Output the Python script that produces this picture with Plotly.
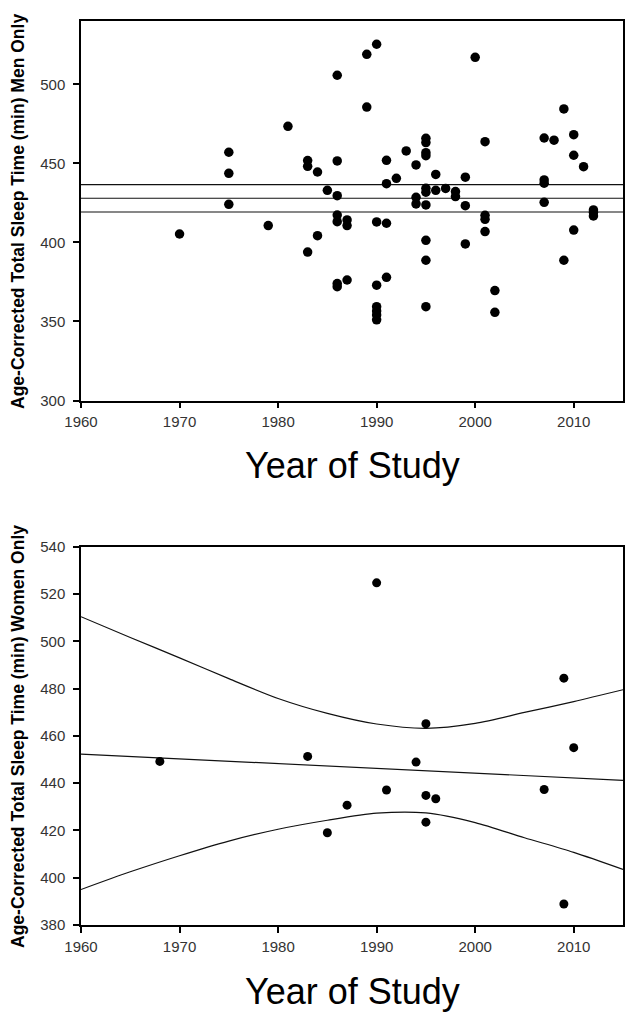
import plotly.graph_objects as go

# ---------------- data: men (top panel) ----------------
men_year = [
    1970, 1975, 1975, 1975, 1979, 1981, 1983, 1983, 1983, 1984, 1984, 1985,
    1986, 1986, 1986, 1986, 1986, 1986, 1986,
    1987, 1987, 1987,
    1989, 1989,
    1990, 1990, 1990, 1990, 1990, 1990, 1990,
    1991, 1991, 1991, 1991,
    1992, 1993, 1994, 1994, 1994,
    1995, 1995, 1995, 1995, 1995, 1995, 1995, 1995, 1995, 1995,
    1996, 1996, 1997, 1998, 1998,
    1999, 1999, 1999, 2000,
    2001, 2001, 2001, 2001, 2002, 2002,
    2007, 2007, 2007, 2007, 2008, 2009, 2009,
    2010, 2010, 2010, 2011, 2012, 2012, 2012,
]
men_tst = [
    405.3, 457.0, 443.7, 424.1, 410.6, 473.4, 451.7, 448.1, 393.9, 444.5, 404.2, 432.9,
    505.7, 451.5, 429.5, 417.3, 413.1, 374.0, 372.0,
    414.2, 410.6, 376.2,
    518.9, 485.6,
    525.3, 412.9, 372.9, 359.3, 356.6, 354.1, 351.0,
    451.9, 437.1, 412.1, 377.9,
    440.5, 457.8, 449.0, 428.5, 424.3,
    465.8, 463.1, 456.7, 454.8, 434.2, 431.7, 423.7, 401.3, 388.7, 359.3,
    443.0, 432.9, 434.1, 432.1, 429.0,
    441.2, 423.2, 399.0, 517.0,
    463.7, 417.1, 414.6, 406.8, 369.5, 355.8,
    466.0, 439.5, 437.4, 425.3, 464.6, 484.4, 388.7,
    468.1, 455.1, 407.8, 447.9, 420.5, 418.9, 416.7,
]
men_fit_year = [1960, 2015]
men_fit = [427.9, 427.9]
men_ci_low = [419.2, 419.2]
men_ci_high = [436.5, 436.5]

# ---------------- data: women (bottom panel) ----------------
women_year = [1968, 1983, 1985, 1987, 1990, 1991, 1994, 1995, 1995, 1995, 1996, 2007, 2009, 2009, 2010]
women_tst = [449.2, 451.3, 419.0, 430.7, 524.7, 437.1, 448.9, 465.1, 434.8, 423.5, 433.4, 437.3, 484.4, 388.9, 455.0]
women_fit_year = [1960, 2015]
women_fit = [452.3, 441.2]
women_ci_year = [1960, 1965, 1970, 1975, 1980, 1985, 1990, 1995, 2000, 2005, 2010, 2015]
women_ci_high = [510.4, 501.6, 493.0, 484.2, 475.8, 469.5, 465.0, 463.2, 465.3, 469.9, 474.5, 479.5]
women_ci_low = [395.0, 402.5, 409.3, 415.5, 420.5, 424.3, 427.3, 427.4, 423.3, 416.9, 410.7, 403.5]

x_ticks = [1960, 1970, 1980, 1990, 2000, 2010]
men_y_ticks = [300, 350, 400, 450, 500]
women_y_ticks = [380, 400, 420, 440, 460, 480, 500, 520, 540]

# ---------------- figure ----------------
FONT = "Liberation Sans, Arial, sans-serif"
OFF = 8                      # browser default body margin
W, H = 633 - OFF, 1016 - OFF
ML, MR = 81 - OFF, 10
PW = W - ML - MR

fig = go.Figure()

line_style = dict(color="#111111", width=1.2)

# top panel
for yy in (men_ci_high, men_fit, men_ci_low):
    fig.add_trace(go.Scatter(x=men_fit_year, y=yy, mode="lines", line=line_style,
                             xaxis="x", yaxis="y", showlegend=False, hoverinfo="skip"))
fig.add_trace(go.Scatter(x=men_year, y=men_tst, mode="markers",
                         marker=dict(color="black", size=9.5, symbol="circle"),
                         xaxis="x", yaxis="y", showlegend=False))

# bottom panel
fig.add_trace(go.Scatter(x=women_ci_year, y=women_ci_high, mode="lines",
                         line=dict(line_style, shape="spline", smoothing=0.8),
                         xaxis="x2", yaxis="y2", showlegend=False, hoverinfo="skip"))
fig.add_trace(go.Scatter(x=women_ci_year, y=women_ci_low, mode="lines",
                         line=dict(line_style, shape="spline", smoothing=0.8),
                         xaxis="x2", yaxis="y2", showlegend=False, hoverinfo="skip"))
fig.add_trace(go.Scatter(x=women_fit_year, y=women_fit, mode="lines", line=line_style,
                         xaxis="x2", yaxis="y2", showlegend=False, hoverinfo="skip"))
fig.add_trace(go.Scatter(x=women_year, y=women_tst, mode="markers",
                         marker=dict(color="black", size=9, symbol="circle"),
                         xaxis="x2", yaxis="y2", showlegend=False))

def py(pix):
    return 1 - (pix - OFF) / H

def px(pix):
    return (pix - OFF - ML) / PW

axis_common = dict(showline=True, linecolor="black", linewidth=1.5, mirror=True,
                   ticks="outside", ticklen=6, tickwidth=1.5, tickcolor="black",
                   showgrid=False, zeroline=False,
                   tickfont=dict(family=FONT, size=15, color="#333333"))
xax = dict(axis_common, ticklabelstandoff=1)
yax = dict(axis_common, ticklabelstandoff=5)

fig.update_layout(
    width=W, height=H,
    margin=dict(l=ML, r=MR, t=0, b=0, autoexpand=False),
    paper_bgcolor="white", plot_bgcolor="white",
    xaxis=dict(xax, domain=[0, 1], range=[1960, 2015], tickvals=x_ticks, anchor="y"),
    yaxis=dict(yax, domain=[py(400.5), py(21)], range=[300, 540], tickvals=men_y_ticks, anchor="x"),
    xaxis2=dict(xax, domain=[0, 1], range=[1960, 2015], tickvals=x_ticks, anchor="y2"),
    yaxis2=dict(yax, domain=[py(925), py(546.7)], range=[380, 540], tickvals=women_y_ticks, anchor="x2"),
)

annos = [
    dict(text="Year of Study", x=px(352), y=py(466), font=dict(family=FONT, size=36, color="black")),
    dict(text="Year of Study", x=px(352), y=py(991), font=dict(family=FONT, size=36, color="black")),
    dict(text="<b>Age-Corrected Total Sleep Time (min) Men Only</b>", x=px(18), y=py(212),
         textangle=-90, font=dict(family=FONT, size=17.5, color="black")),
    dict(text="<b>Age-Corrected Total Sleep Time (min) Women Only</b>", x=px(18), y=py(737),
         textangle=-90, font=dict(family=FONT, size=17.5, color="black")),
]
for a in annos:
    fig.add_annotation(xref="paper", yref="paper", showarrow=False,
                       xanchor="center", yanchor="middle", **a)

fig.write_html("out.html")
